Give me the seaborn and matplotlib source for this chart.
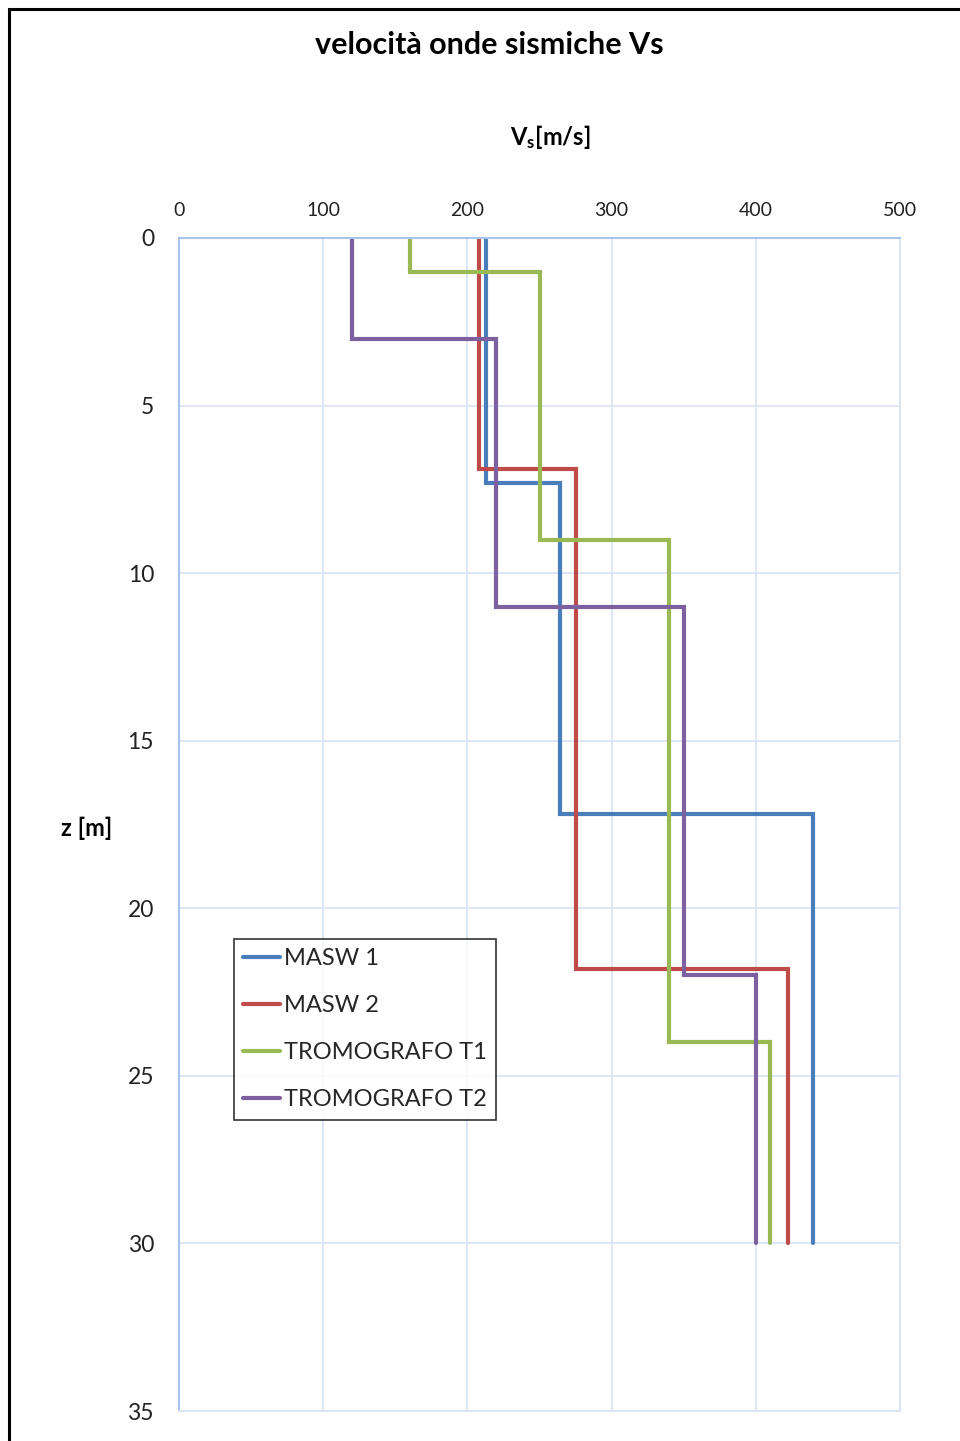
import numpy as np
import pandas as pd
import matplotlib
matplotlib.use("Agg")
import matplotlib.pyplot as plt
import seaborn as sns
from matplotlib.patches import Rectangle
from matplotlib.lines import Line2D

# ---- data ----
series_names = ["MASW 1", "MASW 2", "TROMOGRAFO T1", "TROMOGRAFO T2"]
masw1_depths = [0, 7.3, 17.2, 30]
masw1_vs = [213, 264, 440]
masw2_depths = [0, 6.9, 21.8, 30]
masw2_vs = [208, 275, 422]
t1_depths = [0, 1, 9, 24, 30]
t1_vs = [160, 250, 340, 410]
t2_depths = [0, 3, 11, 22, 30]
t2_vs = [120, 220, 350, 400]
colors = ["#4a7ebb", "#be4b48", "#98b954", "#7d60a0"]
x_ticks = [0, 100, 200, 300, 400, 500]
y_ticks = [0, 5, 10, 15, 20, 25, 30, 35]

profiles = [(masw1_depths, masw1_vs), (masw2_depths, masw2_vs),
            (t1_depths, t1_vs), (t2_depths, t2_vs)]

rows = []
for name, (dep, vs) in zip(series_names, profiles):
    for i, v in enumerate(vs):
        rows.append({"serie": name, "vs": v, "z": dep[i]})
        rows.append({"serie": name, "vs": v, "z": dep[i + 1]})
df = pd.DataFrame(rows)

sns.set_theme(style="white")
plt.rcParams["font.family"] = ["Lato", "DejaVu Sans"]
plt.rcParams["mathtext.fontset"] = "custom"
plt.rcParams["mathtext.rm"] = "Lato:bold"
plt.rcParams["mathtext.bf"] = "Lato:bold"
plt.rcParams["mathtext.it"] = "Lato:bold"

W, H = 960, 1441
fig = plt.figure(figsize=(W / 100, H / 100), dpi=100)
fig.patch.set_facecolor("white")
ax = fig.add_axes([179 / W, 1 - 1411 / H, (900 - 179) / W, (1411 - 238) / H])

sns.lineplot(data=df, x="vs", y="z", hue="serie", hue_order=series_names,
             palette=colors, units="serie", estimator=None, sort=False,
             linewidth=3, ax=ax, legend=False)
for ln in ax.lines:
    ln.set_solid_joinstyle("miter")

ax.set_xlim(0, 500)
ax.set_ylim(35, 0)
ax.set_xticks(x_ticks)
ax.set_yticks(y_ticks)
ax.xaxis.tick_top()
ax.tick_params(axis="x", length=0, pad=14, labelsize=14, colors="#222222")
ax.tick_params(axis="y", length=0, pad=18, labelsize=16.5, colors="#222222")
ax.grid(True, color="#dbe5f3", linewidth=1.3)
ax.set_axisbelow(True)
for side in ["left", "top"]:
    ax.spines[side].set_color("#a9c4ea")
    ax.spines[side].set_linewidth(1.5)
for side in ["right", "bottom"]:
    ax.spines[side].set_color("#dbe5f3")
    ax.spines[side].set_linewidth(1.5)
ax.set_xlabel("")
ax.set_ylabel("")

# legend
handles = [Line2D([0], [0], color=c, lw=3) for c in colors]
leg = fig.legend(handles, series_names, loc="upper left",
                 bbox_to_anchor=(234 / W, 1 - 939 / H),
                 frameon=True, fancybox=False, fontsize=17,
                 handlelength=1.55, handletextpad=0.15, labelspacing=1.1,
                 borderpad=0.4, borderaxespad=0)
leg.get_frame().set_edgecolor("black")
leg.get_frame().set_linewidth(1.2)

# titles / labels
fig.text(489 / W, 1 - 45 / H, "velocità onde sismiche Vs", ha="center", va="center",
         fontsize=22, fontweight="bold", color="black")
fig.text(550 / W, 1 - 137 / H, r"V$_{s}$[m/s]", ha="center", va="center",
         fontsize=17, fontweight="bold", color="black")
fig.text(87 / W, 1 - 828 / H, "z [m]", ha="center", va="center",
         fontsize=17, fontweight="bold", color="black")

# outer frame (top and left edges visible)
fig.add_artist(Rectangle((9 / W, -0.01), 1.1, 1 - 9 / H + 0.01, transform=fig.transFigure,
                         fill=False, edgecolor="black", linewidth=2.2))

fig.savefig("out.png", dpi=100)
